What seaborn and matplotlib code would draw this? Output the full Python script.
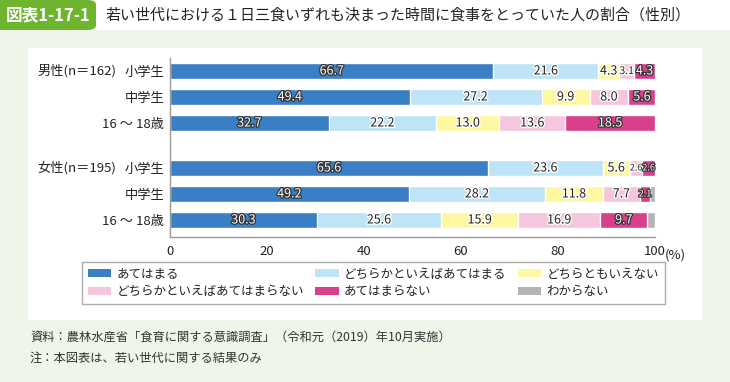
import numpy as np
import pandas as pd
import seaborn as sns
import matplotlib.pyplot as plt
import matplotlib.patheffects as pe
from matplotlib.patches import Patch, Rectangle, FancyBboxPatch

# データ（%）
categories = ['あてはまる', 'どちらかといえばあてはまる', 'どちらともいえない',
              'どちらかといえばあてはまらない', 'あてはまらない', 'わからない']
groups = ['男性(n＝162)', '女性(n＝195)']
rows = ['小学生', '中学生', '16 ～ 18歳', '小学生', '中学生', '16 ～ 18歳']
atehamaru = [66.7, 49.4, 32.7, 65.6, 49.2, 30.3]
dochiraka_ate = [21.6, 27.2, 22.2, 23.6, 28.2, 25.6]
dochiramo = [4.3, 9.9, 13.0, 5.6, 11.8, 15.9]
dochiraka_atenai = [3.1, 8.0, 13.6, 2.6, 7.7, 16.9]
atehamaranai = [4.3, 5.6, 18.5, 2.6, 2.1, 9.7]
wakaranai = [0.0, 0.0, 0.0, 0.0, 1.0, 1.6]
x_ticks = [0, 20, 40, 60, 80, 100]

colors = ['#3a7ec3', '#bde4f7', '#fff8a3', '#f5c6dd', '#d8408c', '#b4b4b4']
dark_label = [True, False, False, False, True, False]

sns.set_theme(style='white')
plt.rcParams['font.family'] = ['Noto Sans CJK JP', 'DejaVu Sans']

W, H = 730, 382
fig = plt.figure(figsize=(W / 100, H / 100), dpi=100)
fig.patch.set_facecolor('#eff6e9')

def fx(px):
    return px / W

def fy(py):
    return 1 - py / H

# 背景パネル
fig.add_artist(Rectangle((0, fy(30)), 1, 30 / H, transform=fig.transFigure,
                         facecolor='white', edgecolor='none', zorder=0))
fig.add_artist(Rectangle((fx(28), fy(320)), 674 / W, 272 / H, transform=fig.transFigure,
                         facecolor='white', edgecolor='none', zorder=0))
fig.add_artist(FancyBboxPatch((0, fy(30)), fx(96), 30 / H, transform=fig.transFigure,
                              boxstyle='round,pad=0,rounding_size=0.012',
                              facecolor='#6db42f', edgecolor='none', zorder=1))
fig.add_artist(Rectangle((0, fy(30)), fx(30), 30 / H, transform=fig.transFigure,
                         facecolor='#6db42f', edgecolor='none', zorder=1))
fig.text(fx(48), fy(15), '図表1-17-1', color='white', fontsize=12, fontweight='bold',
         ha='center', va='center')
fig.text(fx(105), fy(15), '若い世代における１日三食いずれも決まった時間に食事をとっていた人の割合（性別）',
         color='#222222', fontsize=10.8, ha='left', va='center')

ax = fig.add_axes([fx(170), fy(237), (655 - 170) / W, (237 - 58) / H])
ax.set_facecolor('none')

pos = [0, 1, 2, 3.73, 4.73, 5.73]
values = np.array([atehamaru, dochiraka_ate, dochiramo, dochiraka_atenai, atehamaranai, wakaranai])
cum = values.cumsum(axis=0)

# 積み上げ：合計の大きい方から重ねて描く
for i in range(len(categories) - 1, -1, -1):
    df = pd.DataFrame({'pos': pos, 'value': cum[i]})
    sns.barplot(data=df, x='value', y='pos', orient='y', native_scale=True,
                color=colors[i], saturation=1, width=0.62, edgecolor='white',
                linewidth=1.0, ax=ax, errorbar=None)

for i in range(len(categories)):
    for j in range(len(pos)):
        v = values[i, j]
        if v < 2.0:
            continue
        cx = cum[i, j] - v / 2
        if v >= 4.0:
            fs = 9
        elif v >= 3.0:
            fs = 7.5
        else:
            fs = 6.5
        if dark_label[i]:
            t = ax.text(cx, pos[j], f'{v:.1f}', color='white', fontsize=fs,
                        ha='center', va='center')
            t.set_path_effects([pe.withStroke(linewidth=1.8, foreground='#333333')])
        else:
            t = ax.text(cx, pos[j], f'{v:.1f}', color='#222222', fontsize=fs,
                        ha='center', va='center')
            t.set_path_effects([pe.withStroke(linewidth=2.0, foreground='white')])

ax.set_xlim(0, 100)
ax.set_ylim(6.385, -0.5)
ax.set_xticks(x_ticks)
ax.set_xticklabels([str(t) for t in x_ticks], fontsize=9.5, color='#222222')
ax.set_yticks(pos)
ax.set_yticklabels(rows, fontsize=9.5, color='#222222')
ax.set_xlabel('')
ax.set_ylabel('')
ax.tick_params(axis='x', direction='in', length=4, width=1, color='#999999', pad=6)
ax.tick_params(axis='y', length=0, pad=4)
for s in ['top', 'right']:
    ax.spines[s].set_visible(False)
for s in ['left', 'bottom']:
    ax.spines[s].set_color('#999999')
    ax.spines[s].set_linewidth(1)

ax.annotate('(%)', xy=(100, 0), xycoords=('data', 'axes fraction'),
            xytext=(7, -13), textcoords='offset points', ha='left', va='center',
            fontsize=9.5, color='#222222')

for g, p in zip(groups, [pos[0], pos[3]]):
    ax.annotate(g, xy=(fx(37), p), xycoords=('figure fraction', 'data'),
                ha='left', va='center', fontsize=9.5, color='#222222')

order = [0, 3, 1, 4, 2, 5]
handles = [Patch(facecolor=colors[k], edgecolor='none') for k in order]
labels = [categories[k] for k in order]
leg = fig.legend(handles, labels, ncol=3, loc='upper left',
                 bbox_to_anchor=(fx(82), fy(262)), borderaxespad=0,
                 fontsize=9, frameon=True, fancybox=False, edgecolor='#999999',
                 handlelength=1.9, handleheight=0.6, handletextpad=0.4,
                 columnspacing=0.9, labelspacing=0.35, borderpad=0.45)
leg.get_frame().set_linewidth(1)
for t in leg.get_texts():
    t.set_color('#222222')

fig.text(fx(30), fy(338), '資料：農林水産省「食育に関する意識調査」（令和元（2019）年10月実施）',
         fontsize=8.8, color='#333333', ha='left', va='center')
fig.text(fx(30), fy(358), '注：本図表は、若い世代に関する結果のみ',
         fontsize=8.8, color='#333333', ha='left', va='center')

fig.savefig('out.png', dpi=100, facecolor=fig.get_facecolor())
